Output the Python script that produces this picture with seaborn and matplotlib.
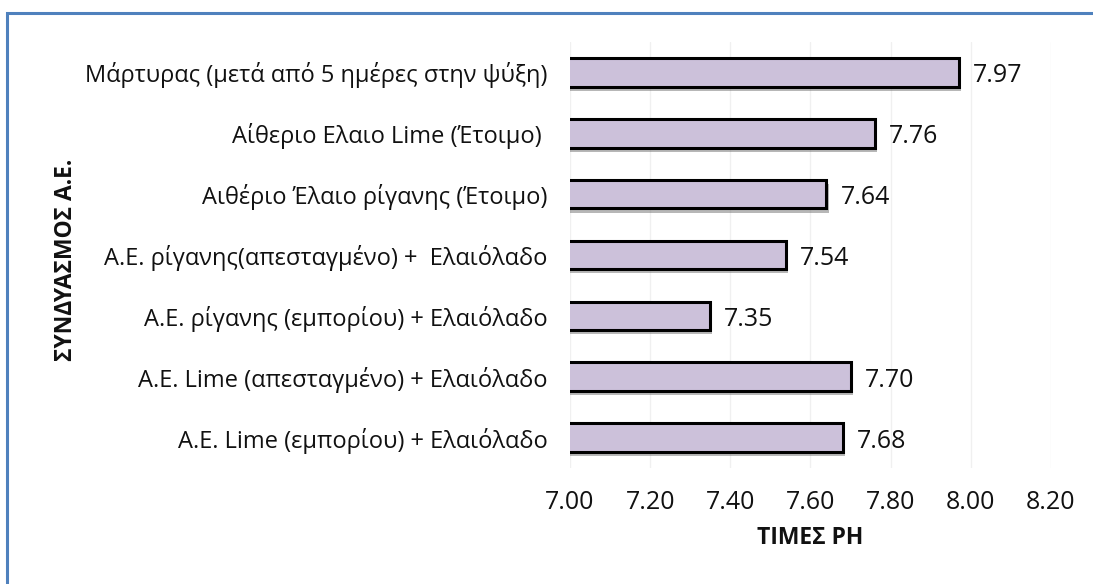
import matplotlib
matplotlib.use("Agg")
import matplotlib.pyplot as plt
import matplotlib.patheffects as pe
from matplotlib.patches import Rectangle
import seaborn as sns
import pandas as pd

categories = [
    "Μάρτυρας (μετά από 5 ημέρες στην ψύξη)",
    "Αίθεριο Ελαιο Lime (Έτοιμο) ",
    "Αιθέριο Έλαιο ρίγανης (Έτοιμο)",
    "Α.Ε. ρίγανης(απεσταγμένο) +  Ελαιόλαδο",
    "Α.Ε. ρίγανης (εμπορίου) + Ελαιόλαδο",
    "Α.Ε. Lime (απεσταγμένο) + Ελαιόλαδο",
    "Α.Ε. Lime (εμπορίου) + Ελαιόλαδο",
]
ph_values = [7.97, 7.76, 7.64, 7.54, 7.35, 7.70, 7.68]
x_ticks = [7.00, 7.20, 7.40, 7.60, 7.80, 8.00, 8.20]

sns.set_theme(style="white")
plt.rcParams["font.family"] = ["Open Sans", "DejaVu Sans"]

df = pd.DataFrame({"category": categories, "ph": ph_values})

fig = plt.figure(figsize=(10.93, 5.84), dpi=100)
ax = fig.add_axes([0.5215, 0.1986, 0.44, 0.7295])

sns.barplot(data=df, x="ph", y="category", orient="h", color="#CCC1DA",
            saturation=1, edgecolor="black", linewidth=2.2, width=0.47, ax=ax)

for bar in ax.patches:
    bar.set_path_effects([
        pe.SimplePatchShadow(offset=(1.5, -3), shadow_rgbFace="#707070", alpha=0.5),
        pe.Normal(),
    ])

labels = ax.bar_label(ax.containers[0], fmt="%.2f", padding=10, fontsize=18, color="#111111")
for t in labels:
    t.xyann = (10, -2.5)

ax.set_xlim(7.0, 8.2)
ax.set_xticks(x_ticks)
ax.set_xticklabels([f"{v:.2f}" for v in x_ticks], fontsize=18, color="#111111")
ax.tick_params(axis="y", labelsize=17, labelcolor="#111111", length=0, pad=16)
ax.tick_params(axis="x", length=0, pad=16)
ax.xaxis.grid(True, color="#F0F0F0", linewidth=1)
ax.set_axisbelow(True)
for s in ax.spines.values():
    s.set_visible(False)

ax.set_xlabel("ΤΙΜΕΣ PH", fontsize=16.5, fontweight="bold", labelpad=8, color="#111111")
ax.set_ylabel("")
fig.text(0.06, 0.555, "ΣΥΝΔΥΑΣΜΟΣ Α.Ε.", rotation=90, fontsize=16.5, fontweight="bold",
         ha="center", va="center", color="#111111")

# outer chart frame
fig.patches.append(Rectangle((0.0065, -0.05), 1.05, 1.027, transform=fig.transFigure,
                             fill=False, edgecolor="#4F81BD", linewidth=2.2))

fig.savefig("out.png", dpi=100)
